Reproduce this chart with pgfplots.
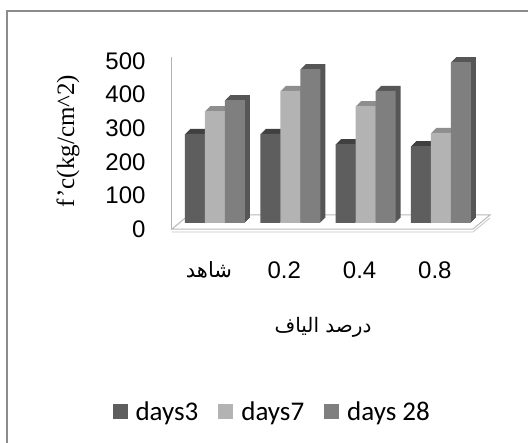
\documentclass[border=0pt]{standalone}
\usepackage{fontspec}
\setmainfont{Liberation Sans}
\newfontfamily\serifnum{Liberation Serif}
\newfontfamily\arabicfont[Script=Arabic]{DejaVu Sans}
\newfontfamily\legfont{Carlito}
\TeXXeTstate=1
\usepackage{pgfplots}
\usepackage{pgfplotstable}
\pgfplotsset{compat=1.18}
\definecolor{dthree}{HTML}{5E5E5E}
\definecolor{dthreeS}{HTML}{404040}
\definecolor{dseven}{HTML}{B3B3B3}
\definecolor{dsevenS}{HTML}{8E8E8E}
\definecolor{dtw}{HTML}{7F7F7F}
\definecolor{dtwS}{HTML}{565656}
\definecolor{frame}{HTML}{8C8C8C}
\pgfplotstableread{
x d3 d7 d28
0 265 333 366
1 265 393 458
2 235 348 393
3 229 268 479
}\datatable
\pgfplotsset{leg/.style={legend image code/.code={\fill[##1] (0pt,-7.5pt) rectangle (15pt,7.5pt);}}}
\begin{document}
\begin{tikzpicture}
\path[use as bounding box] (0,0) rectangle (528pt,443pt);
\fill[white] (0,0) rectangle (528pt,443pt);
\draw[color=frame, line width=2pt] (7pt,-5pt) -- (7pt,432pt) -- (540pt,432pt);
\begin{axis}[
 at={(172pt,220pt)}, anchor=south west,
 scale only axis, width=318pt, height=168pt,
 xmin=-0.571, xmax=3.652, ymin=0, ymax=500,
 clip=false,
 axis line style={draw=none},
 major tick length=0pt,
 xtick={0,1,2,3},
 xticklabels={{\arabicfont\fontsize{21}{23}\selectfont\beginR شاهد\endR},0.2,0.4,0.8},
 ytick={0,100,...,500},
 tick label style={font=\fontsize{24}{26}\selectfont, text=black},
 /pgf/number format/assume math mode=true,
 yticklabel style={anchor=east, xshift=-23pt, yshift=-6pt},
 xticklabel style={anchor=center, yshift=-47pt, xshift=-6pt},
 ylabel={\serifnum f’c(kg/cm\textasciicircum 2)},
 every axis y label/.style={at={(rel axis cs:-0.327,0.488)}, rotate=90, anchor=center, font=\fontsize{25}{27}\selectfont},
 xlabel={\beginR درصد الياف\endR},
 every axis x label/.style={at={(rel axis cs:0.475,-0.619)}, anchor=center, font=\arabicfont\fontsize{20}{22}\selectfont},
 legend style={at={(rel axis cs:0.315,-1.125)}, anchor=center, legend columns=3, draw=none, fill=none,
   font=\legfont\fontsize{27}{29}\selectfont,
   /tikz/every odd column/.append style={column sep=6pt},
   /tikz/every even column/.append style={column sep=18pt}},
]
\filldraw[fill=white, draw=gray!55, line width=1pt] (axis cs:-0.571,-18) -- (axis cs:3.426,-18) -- (axis cs:3.652,24) -- (axis cs:-0.345,24) -- cycle;
\draw[gray!45, line width=0.8pt] ([yshift=-3pt]axis cs:-0.571,-18) -- ([yshift=-3pt]axis cs:3.426,-18) -- ([yshift=-3pt]axis cs:3.652,24);
\draw[gray!60, line width=1pt] (axis cs:-0.571,-18) -- (axis cs:-0.571,495);
\pgfplotsinvokeforeach{1,2,3,4,5}{
\addplot[ybar, bar width=20pt, bar shift=-20pt, fill=dthreeS, draw=none, xshift=#1pt, yshift=#1pt, forget plot] table[x=x,y=d3]{\datatable};
}
\addplot[ybar, leg, bar width=20pt, bar shift=-20pt, fill=dthree, draw=none] table[x=x,y=d3]{\datatable};
\addlegendentry{days3}
\pgfplotsinvokeforeach{1,2,3,4,5}{
\addplot[ybar, bar width=20pt, bar shift=0pt, fill=dsevenS, draw=none, xshift=#1pt, yshift=#1pt, forget plot] table[x=x,y=d7]{\datatable};
}
\addplot[ybar, leg, bar width=20pt, bar shift=0pt, fill=dseven, draw=none] table[x=x,y=d7]{\datatable};
\addlegendentry{days7}
\pgfplotsinvokeforeach{1,2,3,4,5}{
\addplot[ybar, bar width=20pt, bar shift=20pt, fill=dtwS, draw=none, xshift=#1pt, yshift=#1pt, forget plot] table[x=x,y=d28]{\datatable};
}
\addplot[ybar, leg, bar width=20pt, bar shift=20pt, fill=dtw, draw=none] table[x=x,y=d28]{\datatable};
\addlegendentry{days 28}
\end{axis}
\end{tikzpicture}
\end{document}
